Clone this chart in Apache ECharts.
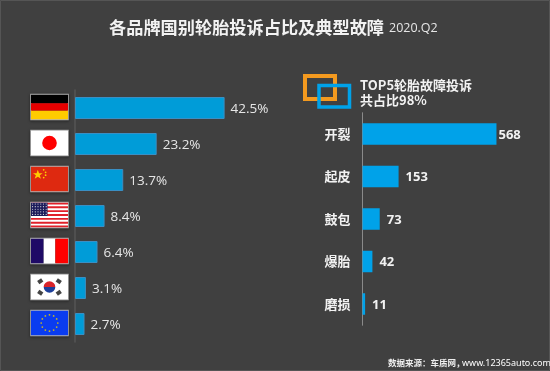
<!DOCTYPE html>
<html>
<head>
<meta charset="utf-8">
<style>
  html, body { margin: 0; padding: 0; background: #404040; }
  #main { width: 550px; height: 371px; }
</style>
<script src="https://cdn.jsdelivr.net/npm/echarts@6/dist/echarts.min.js"></script>
</head>
<body>
<div id="main"></div>
<script>
const brands = ['de', 'jp', 'cn', 'us', 'fr', 'kr', 'eu']
const shares = [42.5, 23.2, 13.7, 8.4, 6.4, 3.1, 2.7]
const faults = ['开裂', '起皮', '鼓包', '爆胎', '磨损']
const complaints = [568, 153, 73, 42, 11]
const font = '"Noto Sans CJK SC", "Noto Sans", sans-serif'

// flags are only decoration, small svg pictures used as label backgrounds
function svg(body) {
  return 'data:image/svg+xml;charset=utf-8,' + encodeURIComponent(
    '<svg xmlns="http://www.w3.org/2000/svg" width="38" height="26" viewBox="0 0 38 26">' + body + '</svg>')
}
function euStars() {
  let s = ''
  for (let i = 0; i < 12; i++) {
    const a = i * Math.PI / 6
    s += '<circle cx="' + (19 + 8.5 * Math.cos(a)) + '" cy="' + (13 + 8.5 * Math.sin(a)) + '" r="0.9" fill="#c9b820"/>'
  }
  return s
}
function usStripes() {
  let s = '<rect width="38" height="26" fill="#fff"/>'
  for (let i = 0; i < 7; i++) s += '<rect y="' + (i * 4) + '" width="38" height="2" fill="#e0202a"/>'
  s += '<rect width="17" height="14" fill="#1c1c5c"/>'
  for (let r = 0; r < 5; r++) for (let c = 0; c < 6; c++) {
    s += '<circle cx="' + (1.6 + c * 2.8) + '" cy="' + (1.6 + r * 2.7) + '" r="0.6" fill="#ddd"/>'
  }
  return s
}
const flags = {
  de: svg('<rect width="38" height="9" fill="#000"/><rect y="9" width="38" height="8" fill="#e60000"/><rect y="17" width="38" height="9" fill="#ffcc00"/>'),
  jp: svg('<rect width="38" height="26" fill="#fff"/><circle cx="19" cy="13" r="7.5" fill="#f00"/>'),
  cn: svg('<rect width="38" height="26" fill="#de2910"/><polygon points="7,3.5 8.3,7 12,7 9,9.2 10.2,12.8 7,10.6 3.8,12.8 5,9.2 2,7 5.7,7" fill="#ffcc00"/><circle cx="13" cy="3.5" r="0.9" fill="#ffcc00"/><circle cx="15" cy="6" r="0.9" fill="#ffcc00"/><circle cx="15" cy="9" r="0.9" fill="#ffcc00"/><circle cx="13" cy="11.5" r="0.9" fill="#ffcc00"/>'),
  us: svg(usStripes()),
  fr: svg('<rect width="13" height="26" fill="#1f0a66"/><rect x="13" width="12" height="26" fill="#fff"/><rect x="25" width="13" height="26" fill="#f00"/>'),
  kr: svg('<rect width="38" height="26" fill="#fff"/><path d="M13 13a6 6 0 0 1 12 0z" fill="#d8232a"/><path d="M13 13a6 6 0 0 0 12 0z" fill="#1d3f9a"/><g fill="#444"><rect x="7" y="5" width="5" height="4" transform="rotate(-35 9.5 7)"/><rect x="26" y="5" width="5" height="4" transform="rotate(35 28.5 7)"/><rect x="7" y="17" width="5" height="4" transform="rotate(35 9.5 19)"/><rect x="26" y="17" width="5" height="4" transform="rotate(-35 28.5 19)"/></g>'),
  eu: svg('<rect width="38" height="26" fill="#0a3cf0"/>' + euStars())
}

const flagRich = {}
brands.forEach(b => {
  flagRich[b] = {
    width: 37, height: 25,
    backgroundColor: { image: flags[b] },
    borderColor: '#b4b4b4', borderWidth: 1.5,
    shadowColor: 'rgba(0,0,0,0.6)', shadowBlur: 3, shadowOffsetY: 1
  }
})

const chart = echarts.init(document.getElementById('main'), null, { renderer: 'canvas' })
chart.setOption({
  animation: false,
  backgroundColor: '#404040',
  textStyle: { fontFamily: font },
  grid: [
    { left: 75, top: 90, width: 176, height: 252 },
    { left: 362.5, top: 112.75, width: 150, height: 212.5 }
  ],
  xAxis: [
    { gridIndex: 0, type: 'value', min: 0, max: 50, show: false },
    { gridIndex: 1, type: 'value', min: 0, max: 636, show: false }
  ],
  yAxis: [
    {
      gridIndex: 0, type: 'category', inverse: true, data: brands,
      axisLine: { lineStyle: { color: '#555555', width: 1.5 } },
      axisTick: { show: false },
      axisLabel: { margin: 7, padding: [0, 0, 2, 0], formatter: v => '{' + v + '|}', rich: flagRich }
    },
    {
      gridIndex: 1, type: 'category', inverse: true, data: faults,
      axisLine: { lineStyle: { color: '#8a8a8a', width: 1 } },
      axisTick: { show: false },
      axisLabel: { margin: 12, color: '#f2f2f2', fontSize: 13, fontWeight: 'bold', fontFamily: font }
    }
  ],
  series: [
    {
      type: 'bar', xAxisIndex: 0, yAxisIndex: 0, data: shares, barWidth: 22,
      itemStyle: { color: '#009cd8', borderColor: '#3a8fc4', borderWidth: 1 },
      label: {
        show: true, position: 'right', distance: 6, offset: [0, 1.5],
        color: '#e6e6e6', fontSize: 13.5, fontFamily: '"Open Sans", sans-serif',
        formatter: p => p.value + '%'
      }
    },
    {
      type: 'bar', xAxisIndex: 1, yAxisIndex: 1, barWidth: 21.5,
      data: complaints.map((v, i) => i === 0 ? { value: v, label: { distance: 2 } } : v),
      itemStyle: { color: '#00a2e9' },
      label: {
        show: true, position: 'right', distance: 7, offset: [0, 1],
        color: '#f2f2f2', fontSize: 13, fontWeight: 'bold', fontFamily: '"Open Sans", sans-serif'
      }
    }
  ],
  graphic: [
    { type: 'rect', shape: { x: 0.5, y: 0.5, width: 549, height: 370 }, style: { fill: 'none', stroke: '#555555', lineWidth: 1 } },
    { type: 'rect', shape: { x: 305, y: 76, width: 30, height: 23 }, style: { fill: 'none', stroke: '#f49a1f', lineWidth: 4 } },
    { type: 'rect', shape: { x: 319, y: 85.5, width: 30.5, height: 21.5 }, style: { fill: 'none', stroke: '#00a2e9', lineWidth: 3.5 } },
    { type: 'text', x: 109, y: 27, style: { text: '各品牌国别轮胎投诉占比及典型故障', fill: '#f2f2f2', font: 'bold 17.2px ' + font, textVerticalAlign: 'middle' } },
    { type: 'text', x: 389, y: 28, style: { text: '2020.Q2', fill: '#e6e6e6', font: '12.5px "Open Sans", sans-serif', textVerticalAlign: 'middle' } },
    { type: 'text', x: 360, y: 85, style: { text: 'TOP5轮胎故障投诉', fill: '#f2f2f2', font: 'bold 13px ' + font, textVerticalAlign: 'middle' } },
    { type: 'text', x: 360, y: 100, style: { text: '共占比98%', fill: '#f2f2f2', font: 'bold 13px ' + font, textVerticalAlign: 'middle' } },
    { type: 'text', x: 388, y: 363, style: { text: '数据来源：车质网，', fill: '#eeeeee', font: 'bold 8.5px ' + font, textVerticalAlign: 'middle' } },
    { type: 'text', x: 462, y: 363, style: { text: 'www.12365auto.com', fill: '#ffffff', font: '9px "Noto Sans", sans-serif', textVerticalAlign: 'middle' } }
  ]
})
</script>
</body>
</html>
